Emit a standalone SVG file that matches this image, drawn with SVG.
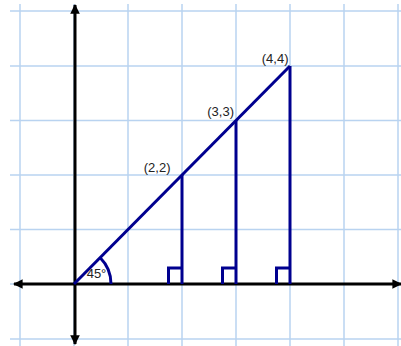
<svg xmlns="http://www.w3.org/2000/svg" width="401" height="346" viewBox="0 0 401 346">
<defs>
<style>
.grid line{stroke:#b9d3f0;stroke-width:1.5}
.axis{stroke:#000;stroke-width:3;fill:none}
.blue{stroke:#00008f;stroke-width:3;fill:none}
.lbl{font-family:"Liberation Sans",Arial,sans-serif;font-size:13px;fill:#222}
</style>
<marker id="arr" viewBox="0 0 10 10" refX="9" refY="5" markerWidth="3.2" markerHeight="3.2" orient="auto" markerUnits="strokeWidth">
<path d="M0,0 L10,5 L0,10 Z" fill="#000"/>
</marker>
</defs>
<rect width="401" height="346" fill="#fff"/>
<g id="grid" class="grid">
<line x1="20" y1="4" x2="20" y2="346"/>
<line x1="74" y1="4" x2="74" y2="346"/>
<line x1="128" y1="4" x2="128" y2="346"/>
<line x1="182" y1="4" x2="182" y2="346"/>
<line x1="236" y1="4" x2="236" y2="346"/>
<line x1="290" y1="4" x2="290" y2="346"/>
<line x1="344" y1="4" x2="344" y2="346"/>
<line x1="398" y1="4" x2="398" y2="346"/>
<line x1="10" y1="11" x2="401" y2="11"/>
<line x1="10" y1="66" x2="401" y2="66"/>
<line x1="10" y1="120.5" x2="401" y2="120.5"/>
<line x1="10" y1="175" x2="401" y2="175"/>
<line x1="10" y1="229.5" x2="401" y2="229.5"/>
<line x1="10" y1="284" x2="401" y2="284"/>
<line x1="10" y1="339" x2="401" y2="339"/>
</g>
<g id="axes">
<line class="axis" x1="75" y1="200" x2="75" y2="5" marker-end="url(#arr)"/>
<line class="axis" x1="75" y1="200" x2="75" y2="344" marker-end="url(#arr)"/>
<line class="axis" x1="200" y1="284" x2="14" y2="284" marker-end="url(#arr)"/>
<line class="axis" x1="200" y1="284" x2="401" y2="284" marker-end="url(#arr)"/>
</g>
<g id="connectors">
<line class="blue" x1="74" y1="284" x2="290" y2="66"/>
<line class="blue" x1="182" y1="175" x2="182" y2="284"/>
<line class="blue" x1="236" y1="120.5" x2="236" y2="284"/>
<line class="blue" x1="290" y1="66" x2="290" y2="284"/>
<path class="blue" d="M111,284 A37,37 0 0 0 100.2,257.8"/>
<path class="blue" d="M168.5,284 V268 H182"/>
<path class="blue" d="M222.5,284 V268 H236"/>
<path class="blue" d="M276.5,284 V268 H290"/>
</g>
<g id="label-2-2"><text class="lbl" x="170.5" y="172" text-anchor="end">(2,2)</text></g>
<g id="label-3-3"><text class="lbl" x="234" y="116" text-anchor="end">(3,3)</text></g>
<g id="label-4-4"><text class="lbl" x="288.5" y="62.5" text-anchor="end">(4,4)</text></g>
<g id="label-angle"><text class="lbl" x="96.5" y="277.5" text-anchor="middle">45°</text></g>
</svg>
